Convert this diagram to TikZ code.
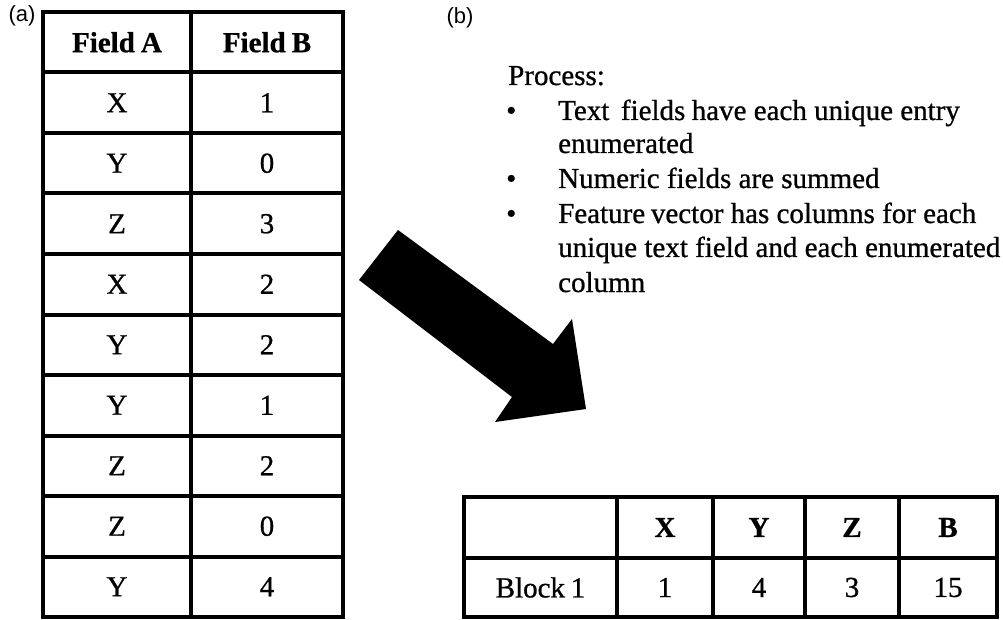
\documentclass[tikz,border=0pt]{standalone}
\usepackage{fontspec}
\setmainfont{Liberation Serif}[FakeBold=0.8]
\newfontfamily\labelfont{Liberation Sans}
\begin{document}
\begin{tikzpicture}[x=1pt,y=-1pt,
  grid/.style={line width=4pt,line cap=rect},
  cell/.style={font=\fontsize{29}{32}\selectfont,inner sep=0pt,anchor=center},
  hcell/.style={cell,font=\fontsize{29}{32}\selectfont\bfseries},
  body/.style={font=\fontsize{29}{34.5}\selectfont,inner sep=0pt,anchor=base west},
  lab/.style={font=\labelfont\fontsize{22}{24}\selectfont,inner sep=0pt,anchor=center}]
\useasboundingbox (0,0) rectangle (1003,620);

% panel labels
\node[lab] (la) at (22,16) {(a)};
\node[lab] (lb) at (460,18) {(b)};

% left table
\foreach \k in {0,...,10} {
  \draw[grid] (43,{12+60.5*\k}) -- (343,{12+60.5*\k});
}
\foreach \x in {43,191,343} {
  \draw[grid] (\x,12) -- (\x,617);
}
\node[hcell] (ha) at (117,42.25) {Field\hspace{-0.04em} A};
\node[hcell] (hb) at (267,42.25) {Field\hspace{-0.04em} B};
\foreach \a/\b [count=\i] in {X/1,Y/0,Z/3,X/2,Y/2,Y/1,Z/2,Z/0,Y/4} {
  \node[cell] (a\i) at (117,{42.25+60.5*\i}) {\a};
  \node[cell] (b\i) at (267,{42.25+60.5*\i}) {\b};
}

% arrow
\fill (398,230) -- (553,344) -- (572,319) -- (586,409) -- (495,422) -- (512,397) -- (359,280) -- cycle;

% process text
\node[body] (p0) at (508,85) {Process:};
\node[body] (d1) at (506,120) {\textbullet};
\node[body] (p1) at (558,120) {Text\hspace{0.4em}fields\hspace{-0.03em} have each unique entry};
\node[body] (p1b) at (558,153) {enumerated};
\node[body] (d2) at (506,188) {\textbullet};
\node[body] (p2) at (558,188) {Numeric fields are summed};
\node[body] (d3) at (506,223) {\textbullet};
\node[body] (p3) at (558,223) {Feature\hspace{-0.05em} vector has columns for each};
\node[body] (p3b) at (558,257) {unique text field and each enumerated};
\node[body] (p3c) at (558,292) {column};

% right table
\foreach \y in {497,558,617} {
  \draw[grid] (464,\y) -- (997,\y);
}
\foreach \x in {464,617,713,805,899,997} {
  \draw[grid] (\x,497) -- (\x,617);
}
\node[hcell] (rx) at (665,527.5) {X};
\node[hcell] (ry) at (759,527.5) {Y};
\node[hcell] (rz) at (852,527.5) {Z};
\node[hcell] (rb) at (948,527.5) {B};
\node[cell] (r0) at (540.5,587.5) {Block\hspace{-0.05em} 1};
\node[cell] (r1) at (665,587.5) {1};
\node[cell] (r2) at (759,587.5) {4};
\node[cell] (r3) at (852,587.5) {3};
\node[cell] (r4) at (948,587.5) {15};
\end{tikzpicture}
\end{document}
